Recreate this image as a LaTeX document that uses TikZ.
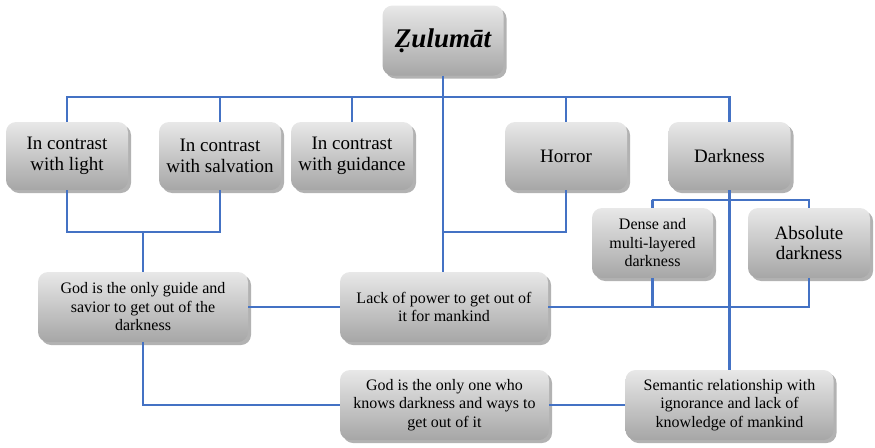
\documentclass[tikz,border=0pt]{standalone}
\usepackage{fontspec}
\setmainfont{LiberationSerif}[Extension=.ttf,UprightFont=*-Regular,BoldFont=*-Bold,ItalicFont=*-Italic,BoldItalicFont=*-BoldItalic]
\usetikzlibrary{shadows}
\definecolor{linkblue}{RGB}{68,114,196}
\definecolor{boxtop}{RGB}{232,232,232}
\definecolor{boxbottom}{RGB}{166,166,166}
\begin{document}
\begin{tikzpicture}[x=1pt,y=-1pt]
        % Styles
        \tikzstyle{concept box}=[rounded corners=10pt,top color=boxtop,bottom color=boxbottom,
            drop shadow={shadow xshift=3pt,shadow yshift=-3pt,opacity=.3,fill=black},
            align=center,inner sep=2pt]
        \tikzstyle{big text}=[font=\fontsize{19}{20.5}\selectfont]
        \tikzstyle{small text}=[font=\fontsize{16}{18.5}\selectfont]
        \tikzstyle{link line}=[draw=linkblue,line width=2.4pt]
        %The graphic
        \useasboundingbox (0,0) rectangle (875,447);
        %boxes
        \node[concept box,minimum width=121,minimum height=70,font=\fontsize{27}{30}\selectfont\bfseries\itshape] (zul) at (443,40.5) {Ẓulumāt};
        \node[concept box,big text,minimum width=122,minimum height=68] (light) at (67,156) {In contrast\\with light};
        \node[concept box,big text,minimum width=122,minimum height=68] (salvation) at (220,156) {In contrast\\with salvation};
        \node[concept box,big text,minimum width=122,minimum height=68] (guidance) at (352,156) {In contrast\\with guidance};
        \node[concept box,big text,minimum width=122,minimum height=68] (horror) at (566,156) {Horror};
        \node[concept box,big text,minimum width=122,minimum height=68] (darkness) at (729.5,156) {Darkness};
        \node[concept box,small text,minimum width=121,minimum height=70] (dense) at (652.5,243) {Dense and\\multi-layered\\darkness};
        \node[concept box,big text,minimum width=122,minimum height=70] (absolute) at (809,243) {Absolute\\darkness};
        \node[concept box,small text,minimum width=210,minimum height=70] (guide) at (143,307) {God is the only guide and\\savior to get out of the\\darkness};
        \node[concept box,small text,minimum width=208,minimum height=70] (power) at (444,307) {Lack of power to get out of\\it for mankind};
        \node[concept box,small text,minimum width=209,minimum height=70] (knows) at (444.5,405) {God is the only one who\\knows darkness and ways to\\get out of it};
        \node[concept box,small text,minimum width=208,minimum height=70] (semantic) at (729.5,405) {Semantic relationship with\\ignorance and lack of\\knowledge of mankind};
        %joints
        \coordinate (top bus) at (443,97);
        \coordinate (left bus) at (143,232);
        \coordinate (mid bus) at (443,232);
        \coordinate (dark bus) at (652,200);
        %lines
        \begin{scope}[style=link line]
            \draw (light.north) |- (top bus) -| (darkness.north);
            \foreach \n in {salvation,guidance,horror}
            \draw (\n.north) -- (\n.north |- top bus);
            \draw (zul.south) -- (zul.south |- power.north);
            \draw (light.south) |- (left bus) -| (salvation.south);
            \draw (guide.north) -- (left bus);
            \draw (horror.south) |- (mid bus);
            \draw (darkness.south) -- (semantic.north);
            \draw (dense.north) |- (dark bus) -| (absolute.north);
            \draw (guide.east) -- (power.west);
            \draw (power.east) -| (absolute.south);
            \draw (dense.south) -- (dense.south |- power.east);
            \draw (guide.south) |- (knows.west);
            \draw (knows.east) -- (semantic.west);
        \end{scope}
    \end{tikzpicture}
\end{document}
